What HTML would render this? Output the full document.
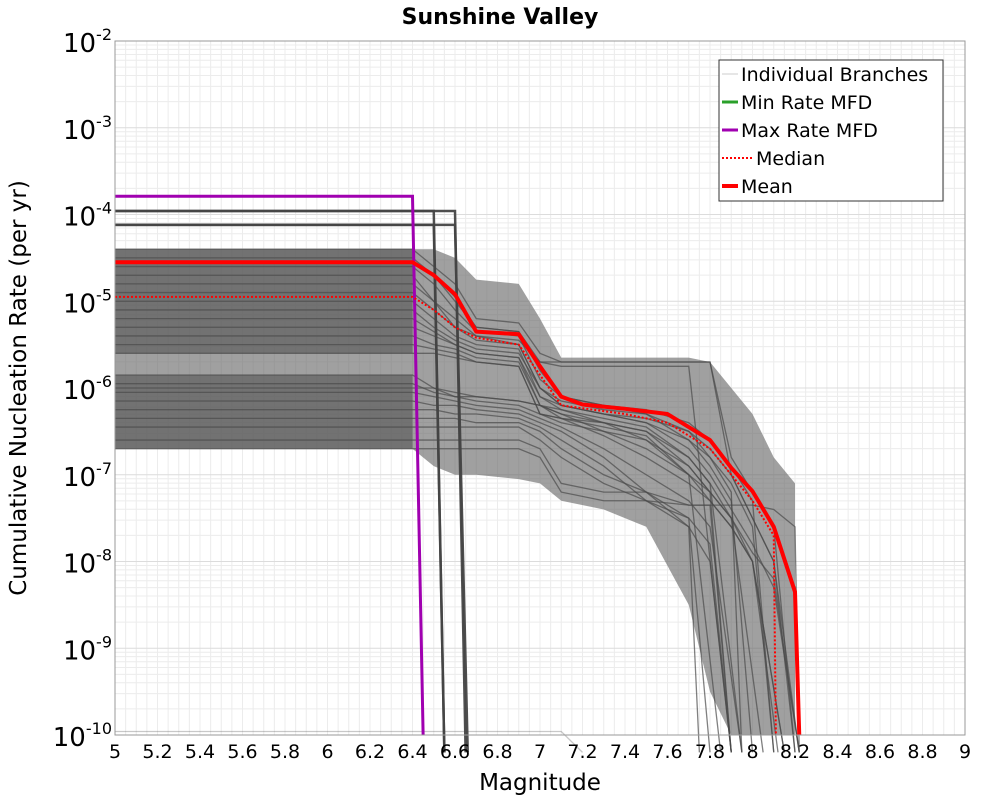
<!DOCTYPE html>
<html><head><meta charset="utf-8">
<style>
html,body{margin:0;padding:0;background:#fff;}
svg{display:block;font-family:"DejaVu Sans","Liberation Sans",sans-serif;}
</style></head>
<body>
<svg id="chart" width="1000" height="800" viewBox="0 0 1000 800">
  <rect x="0" y="0" width="1000" height="800" fill="#fff"/>
  <text x="500" y="24" text-anchor="middle" font-size="22" font-weight="bold">Sunshine Valley</text>
  <g id="grid"></g>
  <g id="bands"></g>
  <g id="branches"></g>
  <g id="summary"></g>
  <rect x="115" y="41" width="850" height="694" fill="none" stroke="#999" stroke-width="1"/>
  <g id="xaxis"></g>
  <g id="yaxis"></g>
  <text x="540" y="790" text-anchor="middle" font-size="23">Magnitude</text>
  <text transform="translate(26,388) rotate(-90)" text-anchor="middle" font-size="23">Cumulative Nucleation Rate (per yr)</text>
  <g>
    <rect x="719" y="60" width="224" height="141" fill="#fff" stroke="#333" stroke-width="1"/>
    <g><line x1="722" y1="74" x2="738" y2="74" stroke="#ccc" stroke-width="1"/><text x="741" y="81" font-size="19">Individual Branches</text></g>
    <g><line x1="722" y1="102" x2="738" y2="102" stroke="#2aa02a" stroke-width="3"/><text x="741" y="109" font-size="19">Min Rate MFD</text></g>
    <g><line x1="722" y1="130" x2="738" y2="130" stroke="#a000b0" stroke-width="3"/><text x="741" y="137" font-size="19">Max Rate MFD</text></g>
    <g><line x1="722" y1="158" x2="752" y2="158" stroke="#f00" stroke-width="2" stroke-dasharray="2,2"/><text x="756" y="165" font-size="19">Median</text></g>
    <g><line x1="722" y1="186" x2="738" y2="186" stroke="#f00" stroke-width="4"/><text x="741" y="193" font-size="19">Mean</text></g>
  </g>
</svg>
<script>
const xTicks = [5,5.2,5.4,5.6,5.8,6,6.2,6.4,6.6,6.8,7,7.2,7.4,7.6,7.8,8,8.2,8.4,8.6,8.8,9];
const yDecades = [-2,-3,-4,-5,-6,-7,-8,-9,-10];
const M = [5,6.4,6.5,6.6,6.7,6.9,7.0,7.1,7.3,7.5,7.7,7.8,7.9,8.0,8.1,8.2];
const meanMags = [5,6.4,6.5,6.6,6.7,6.9,7.0,7.1,7.2,7.4,7.6,7.8,7.9,8.0,8.1,8.2,8.22];
const meanLog = [-4.55,-4.55,-4.7,-4.92,-5.35,-5.38,-5.75,-6.1,-6.19,-6.24,-6.3,-6.6,-6.92,-7.19,-7.6,-8.35,-10];
const medianMags = [5,6.4,6.5,6.6,6.7,6.9,7.0,7.1,7.4,7.6,7.8,7.9,8.0,8.1,8.11];
const medianLog = [-4.95,-4.95,-5.1,-5.3,-5.42,-5.5,-5.85,-6.2,-6.3,-6.4,-6.7,-7.0,-7.3,-7.7,-10];
const maxMags = [5,6.4,6.45];
const maxLog = [-3.79,-3.79,-10];
const envHi = [-4.4,-4.4,-4.4,-4.5,-4.75,-4.8,-5.2,-5.65,-5.65,-5.65,-5.65,-5.7,-6.0,-6.3,-6.8,-7.1];
const envLo = [-6.7,-6.7,-6.9,-7.0,-7.0,-7.05,-7.1,-7.3,-7.4,-7.6,-8.5,-9.5,-10,-10,-10,-10];
const bandHi = [-4.4,-5.85];
const bandLo = [-5.6,-6.7];
const branchVals = [
 [-4.4,-4.4,-4.6,-4.8,-5.2,-5.25,-5.6,-5.7,-5.7,-5.7,-5.7,-5.7,-6.8,-7.2,-7.6],
 [-4.5,-4.5,-4.7,-5.0,-5.3,-5.35,-5.8,-6.1,-6.2,-6.25,-6.4,-6.6,-6.9,-7.3],
 [-4.6,-4.6,-4.8,-5.1,-5.35,-5.4,-5.9,-6.1,-6.2,-6.3,-6.5,-6.7,-7.0,-7.5,-8.0],
 [-4.7,-4.7,-5.0,-5.2,-5.4,-5.45,-5.7,-5.75,-5.75,-5.75,-5.75],
 [-4.8,-4.8,-5.0,-5.3,-5.4,-5.5,-6.0,-6.2,-6.3,-6.35,-6.5,-6.8,-7.1,-7.6],
 [-4.9,-4.9,-5.1,-5.3,-5.45,-5.5,-6.0,-6.15,-6.25,-6.3,-6.6,-6.9,-7.3],
 [-5.0,-5.0,-5.2,-5.4,-5.5,-5.55,-6.1,-6.2,-6.3,-6.4,-6.7,-7.0,-7.4,-7.8,-8.3],
 [-5.1,-5.1,-5.3,-5.45,-5.55,-5.6,-6.0,-6.2,-6.3,-6.4,-6.6,-6.8,-7.2],
 [-5.2,-5.2,-5.35,-5.5,-5.6,-5.65,-6.1,-6.25,-6.35,-6.45,-6.8,-7.1,-7.5,-8.0],
 [-5.3,-5.3,-5.4,-5.5,-5.6,-5.65,-6.2,-6.3,-6.4,-6.5,-6.9,-7.2],
 [-5.4,-5.4,-5.5,-5.55,-5.65,-5.7,-6.2,-6.35,-6.45,-6.55,-7.0],
 [-5.5,-5.5,-5.55,-5.6,-5.7,-5.75,-6.3,-6.4,-6.5,-6.6,-7.0,-7.3,-7.6,-8.0],
 [-5.6,-5.6,-5.6,-5.65,-5.7,-5.75,-6.3,-6.35,-6.4,-6.5,-6.8,-7.1],
 [-4.55,-4.55,-4.7,-4.95,-5.3,-5.35,-5.7,-5.7,-5.7,-5.7,-5.7,-5.7,-7.0,-7.5,-8.0],
 [-5.85,-5.85,-6.0,-6.05,-6.1,-6.15,-6.2,-6.25,-6.4,-6.6,-6.9,-7.2,-7.5],
 [-5.95,-5.95,-6.05,-6.1,-6.15,-6.2,-6.3,-6.35,-6.55,-6.8,-7.1,-7.3,-7.6,-8.0],
 [-6.05,-6.05,-6.1,-6.15,-6.2,-6.25,-6.35,-6.45,-6.7,-7.0,-7.3,-7.6],
 [-6.15,-6.15,-6.2,-6.2,-6.25,-6.3,-6.4,-6.5,-6.8,-7.2,-7.35,-7.35],
 [-6.25,-6.25,-6.25,-6.3,-6.3,-6.35,-6.45,-6.6,-6.9,-7.3,-7.35,-7.35,-7.35,-7.35,-7.4,-7.6],
 [-6.35,-6.35,-6.35,-6.35,-6.4,-6.4,-6.5,-6.7,-7.0,-7.2,-7.5],
 [-6.45,-6.45,-6.45,-6.45,-6.45,-6.45,-6.6,-6.8,-7.1,-7.3,-7.6,-8.0],
 [-6.6,-6.6,-6.6,-6.6,-6.6,-6.6,-6.7,-7.1,-7.2,-7.2,-7.6],
 [-6.7,-6.7,-6.7,-6.7,-6.7,-6.7,-6.8,-7.2,-7.3,-7.3,-7.5,-7.8],
 [-6.0,-6.0,-6.0,-6.1,-6.1,-6.15,-6.2,-6.3,-6.5,-6.7,-7.0,-7.2,-7.5,-7.9,-8.2],
 [-3.96,-3.96,-3.96,-3.96],
 [-3.96,-3.96,-3.96],
 [-4.12,-4.12,-4.12],
 [-4.12,-4.12,-4.12,-4.12],
 [-9.96,-9.96,-9.96,-9.96,-9.96,-9.96,-9.96,-9.96]
];
const branchEnd = [8.2,8.1,8.22,7.9,8.1,8.0,8.22,7.95,8.15,7.9,7.85,8.12,7.95,8.2,8.05,8.15,7.95,7.9,8.22,7.8,7.9,7.75,7.9,8.22,6.65,6.55,6.55,6.66,7.2];

const NS='http://www.w3.org/2000/svg';
const X0=115,X1=965,Y0=41,Y1=735;
const xs=m=>X0+(m-5)/(9-5)*(X1-X0);
const ys=l=>Y0+(-2-l)/8*(Y1-Y0);
function mk(tag,attrs,parent){const e=document.createElementNS(NS,tag);for(const k in attrs)e.setAttribute(k,attrs[k]);parent.appendChild(e);return e;}
const grid=document.getElementById('grid');
for(let m=5;m<=9.0001;m+=0.05){
  const l=mk('line',{x1:xs(m),x2:xs(m),y1:Y0,y2:Y1,stroke:'#ececec','stroke-width':1},grid);
  
  
}
for(let d=-10;d<-2;d++){for(let k=1;k<10;k++){
  const y=ys(d+Math.log10(k));
  const l=mk('line',{x1:X0,x2:X1,y1:y,y2:y,stroke:k==1?'#dcdcdc':'#ececec','stroke-width':1},grid);
  
  
}}
const bands=document.getElementById('bands');
let pts=M.map((m,i)=>xs(m)+','+ys(envHi[i])).concat(M.slice().reverse().map((m,i)=>xs(m)+','+ys(envLo[M.length-1-i])));
const env=mk('polygon',{points:pts.join(' '),fill:'#666','fill-opacity':0.62},bands);


for(let i=0;i<bandHi.length;i++){
  const r=mk('rect',{x:xs(5),y:ys(bandHi[i]),width:xs(6.4)-xs(5),height:ys(bandLo[i])-ys(bandHi[i]),fill:'#5e5e5e','fill-opacity':0.7},bands);
  
  
}
const br=document.getElementById('branches');
branchVals.forEach((v,i)=>{
  const p=v.map((l,j)=>xs(M[j])+','+ys(l));
  p.push(xs(branchEnd[i])+','+ys(-10.2));
  const pl=mk('polyline',{points:p.join(' '),fill:'none',stroke:i>=24&&i<28?'#444':'#4a4a4a','stroke-width':i>=24&&i<28?2.5:1.3,'stroke-opacity':i>=24&&i<28?0.95:(i==28?0.3:0.7)},br);
  
  
});
const sm=document.getElementById('summary');
function series(mags,logs,attrs,name){
  const pl=mk('polyline',Object.assign({points:mags.map((m,i)=>xs(m)+','+ys(logs[i])).join(' '),fill:'none'},attrs),sm);
  
  
}
series(maxMags,maxLog,{stroke:'#a000b0','stroke-width':3},'max-rate-line');
series(medianMags,medianLog,{stroke:'#f00','stroke-width':2,'stroke-dasharray':'2,2'},'median-line');
series(meanMags,meanLog,{stroke:'#f00','stroke-width':4,'stroke-linejoin':'round'},'mean-line');
const xa=document.getElementById('xaxis');
xTicks.forEach(t=>{
  const tx=mk('text',{x:xs(t),y:758,'text-anchor':'middle','font-size':19},xa);
  tx.textContent=String(t);
  
  
});
const ya=document.getElementById('yaxis');
yDecades.forEach(d=>{
  const tx=mk('text',{x:112,y:ys(d)+11,'text-anchor':'end','font-size':26},ya);
  
  
  const a=document.createElementNS(NS,'tspan');a.textContent='10';tx.appendChild(a);
  const b=document.createElementNS(NS,'tspan');b.setAttribute('dy','-12');b.setAttribute('font-size','16');b.textContent=String(d);tx.appendChild(b);
});
</script>
</body></html>
